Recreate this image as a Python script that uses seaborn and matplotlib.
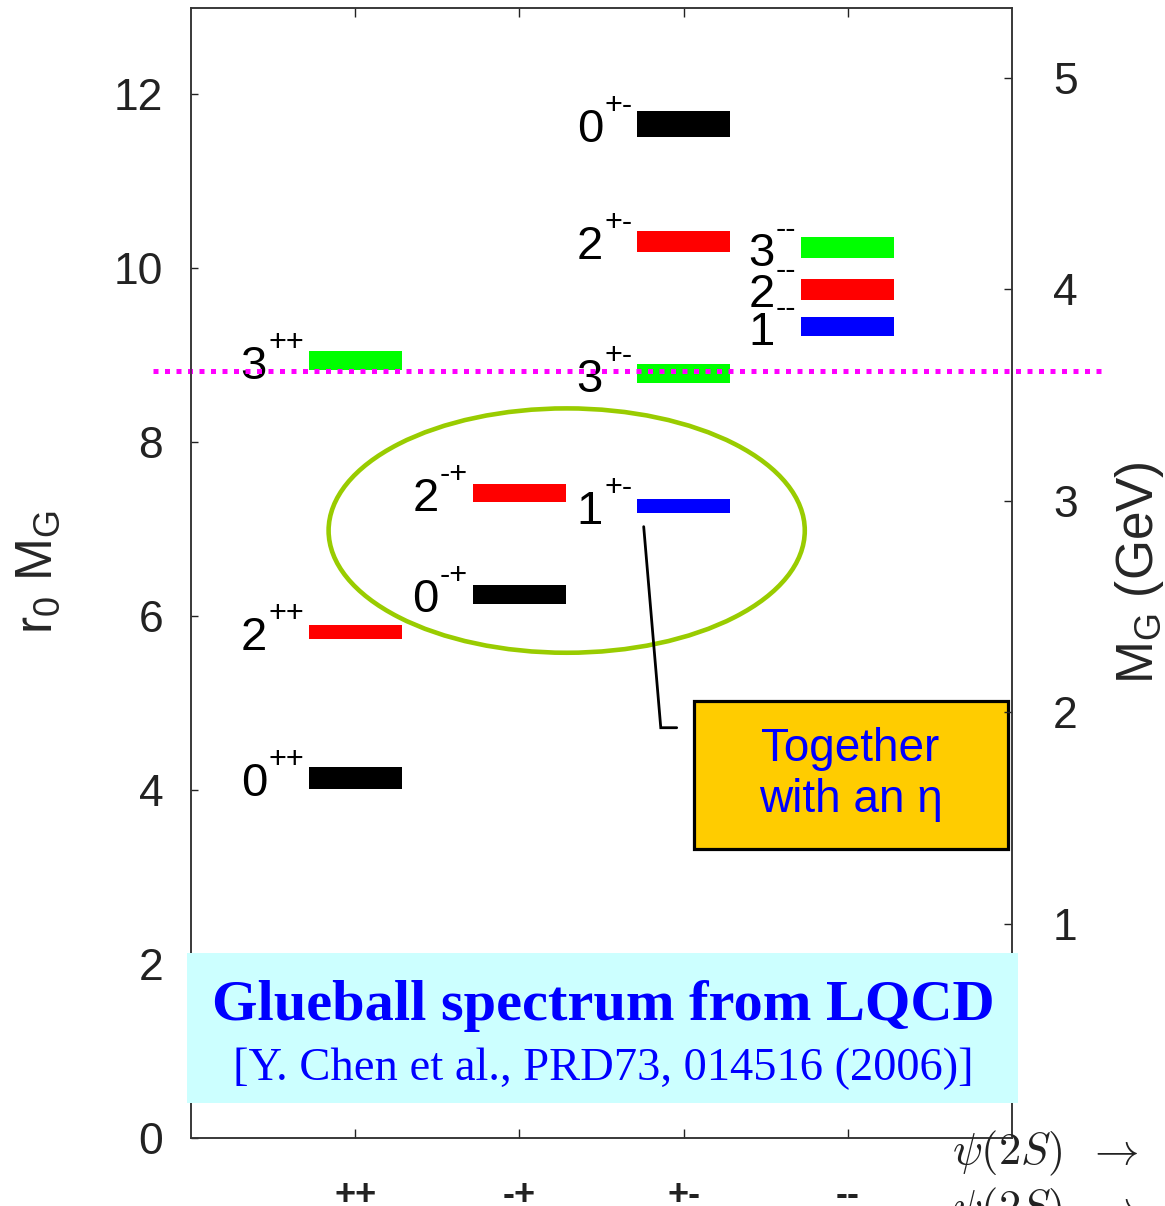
import numpy as np
import pandas as pd
import seaborn as sns
import matplotlib
matplotlib.use("Agg")
import matplotlib.pyplot as plt
from matplotlib.patches import Ellipse, Rectangle

# ---------------- data ----------------
pc_labels = ["++", "-+", "+-", "--"]
state_pc = ["++", "++", "++", "-+", "-+", "+-", "+-", "+-", "+-", "--", "--", "--"]
state_j = ["0", "2", "3", "0", "2", "1", "3", "2", "0", "1", "2", "3"]
mass_r0 = [4.14, 5.82, 8.94, 6.25, 7.42, 7.27, 8.79, 10.31, 11.66, 9.33, 9.76, 10.24]
band_r0 = [0.25, 0.16, 0.22, 0.22, 0.21, 0.16, 0.22, 0.25, 0.295, 0.22, 0.24, 0.24]
j_colors = {"0": "#000000", "1": "#0000ff", "2": "#ff0000", "3": "#00ff00"}
r0_ticks = [0, 2, 4, 6, 8, 10, 12]
gev_ticks = [1, 2, 3, 4, 5]
r0_per_gev = 2.445
threshold_r0 = 8.815

df = pd.DataFrame({"pc": state_pc, "J": state_j, "m": mass_r0, "band": band_r0})
df["x"] = df["pc"].map({p: i + 1 for i, p in enumerate(pc_labels)})

# ---------------- style ----------------
sns.set_theme(style="white")
plt.rcParams["font.family"] = ["Liberation Sans", "DejaVu Sans"]
plt.rcParams["mathtext.fontset"] = "custom"
plt.rcParams["mathtext.rm"] = "Liberation Sans"
plt.rcParams["mathtext.it"] = "Liberation Sans:italic"

W, H = 1165, 1206
fig = plt.figure(figsize=(W / 100, H / 100), dpi=100)
ax = fig.add_axes([191 / W, 1 - 1138 / H, (1012 - 191) / W, (1138 - 7.5) / H])

def px2fig(x, y):
    return x / W, 1 - y / H

PT = 72 / 100  # pixels -> points

# ---------------- bars ----------------
bw = 0.565
ax.bar(df["x"], df["band"], bottom=df["m"] - df["band"] / 2, width=bw,
       color=[j_colors[j] for j in df["J"]], linewidth=0, zorder=3)

for _, r in df.iterrows():
    left = r["x"] - bw / 2
    sup = ax.annotate(r["pc"], xy=(left, r["m"]), xytext=(-5 * PT, 18 * PT),
                      textcoords="offset points", ha="right", va="center",
                      fontsize=22, color="black", zorder=4)
    ax.annotate(r["J"], xy=(0, r["m"]), xycoords=(sup, "data"),
                xytext=(-1 * PT, -6 * PT), textcoords="offset points",
                ha="right", va="center", fontsize=34, color="black", zorder=4)

# threshold dotted line
ax.plot([-0.231, 5.563], [threshold_r0, threshold_r0], color="#ff00ff", lw=3.6,
        linestyle=(0, (1.0, 1.3)), dash_capstyle="butt", clip_on=False, zorder=6)

# ellipse highlighting the -+ / 1+- states
ax.add_patch(Ellipse((2.288, 6.985), 2.90, 2.81, fill=False, edgecolor="#99cc00",
                     lw=3.3, zorder=5))

# callout line and box
ax.plot([2.757, 2.861, 2.958], [7.03, 4.718, 4.718], color="black", lw=2.0,
        solid_joinstyle="miter", zorder=5)
ax.add_patch(Rectangle((3.061, 3.326), 1.912, 1.703, facecolor="#ffcc00",
                       edgecolor="black", lw=2.3, zorder=5))
ax.text(4.017, 4.18, "Together\nwith an η", ha="center", va="center",
        fontsize=33, color="#0000ff", zorder=6, linespacing=1.2)

# ---------------- axes ----------------
ax.set_xlim(0, 5)
ax.set_ylim(0, 13)
ax.set_xticks([1, 2, 3, 4])
ax.set_xticklabels(pc_labels, fontsize=26, fontweight="bold")
ax.set_yticks(r0_ticks)
ax.set_yticklabels([str(t) for t in r0_ticks], fontsize=32)
ax.tick_params(axis="y", direction="in", length=5, width=1, pad=20, left=True,
               right=False, colors="#222222")
ax.tick_params(axis="x", direction="in", length=6.5, width=1, pad=29,
               top=True, bottom=True, colors="#222222")
ax.grid(False)
for s in ax.spines.values():
    s.set_color("#333333")
    s.set_linewidth(1.1)

ax2 = ax.twinx()
ax2.set_ylim(-2.5 / 212.5, (1140.5 - 7.5) / 212.5)
ax2.set_yticks(gev_ticks)
ax2.set_yticklabels([str(t) for t in gev_ticks], fontsize=32)
ax2.tick_params(axis="y", direction="in", length=6, width=1, pad=29.5,
                colors="#222222")
ax2.grid(False)
for s in ax2.spines.values():
    s.set_color("#333333")
    s.set_linewidth(1.1)

fig.text(*px2fig(38, 572), r"r$_\mathregular{0}$ M$_\mathregular{G}$", rotation=90,
         ha="center", va="center", fontsize=37)
fig.text(*px2fig(1140, 573), r"M$_\mathregular{G}$ (GeV)", rotation=90,
         ha="center", va="center", fontsize=37)

# ---------------- title box ----------------
x0, y0 = px2fig(187, 1103)
x1, y1 = px2fig(1018, 953)
fig.add_artist(Rectangle((x0, y0), x1 - x0, y1 - y0, transform=fig.transFigure,
                         facecolor="#ccffff", edgecolor="none", zorder=5))
fig.text(*px2fig(603, 1006), "Glueball spectrum from LQCD", ha="center", va="center",
         fontsize=42, fontweight="bold", family="Liberation Serif", color="#0000ff",
         zorder=6)
fig.text(*px2fig(603, 1069), "[Y. Chen et al., PRD73, 014516 (2006)]", ha="center",
         va="center", fontsize=33.5, family="Liberation Serif", color="#0000ff", zorder=6)

# cropped equation fragments at bottom right
eq = r"$\psi(2S)\;\;\rightarrow$"
fig.text(*px2fig(952, 1153), eq, ha="left", va="center",
         fontsize=32, math_fontfamily="cm", color="#222222", zorder=6)
fig.text(*px2fig(952, 1210), eq, ha="left", va="center",
         fontsize=32, math_fontfamily="cm", color="#222222", zorder=6)

fig.savefig("out.png", dpi=100)
